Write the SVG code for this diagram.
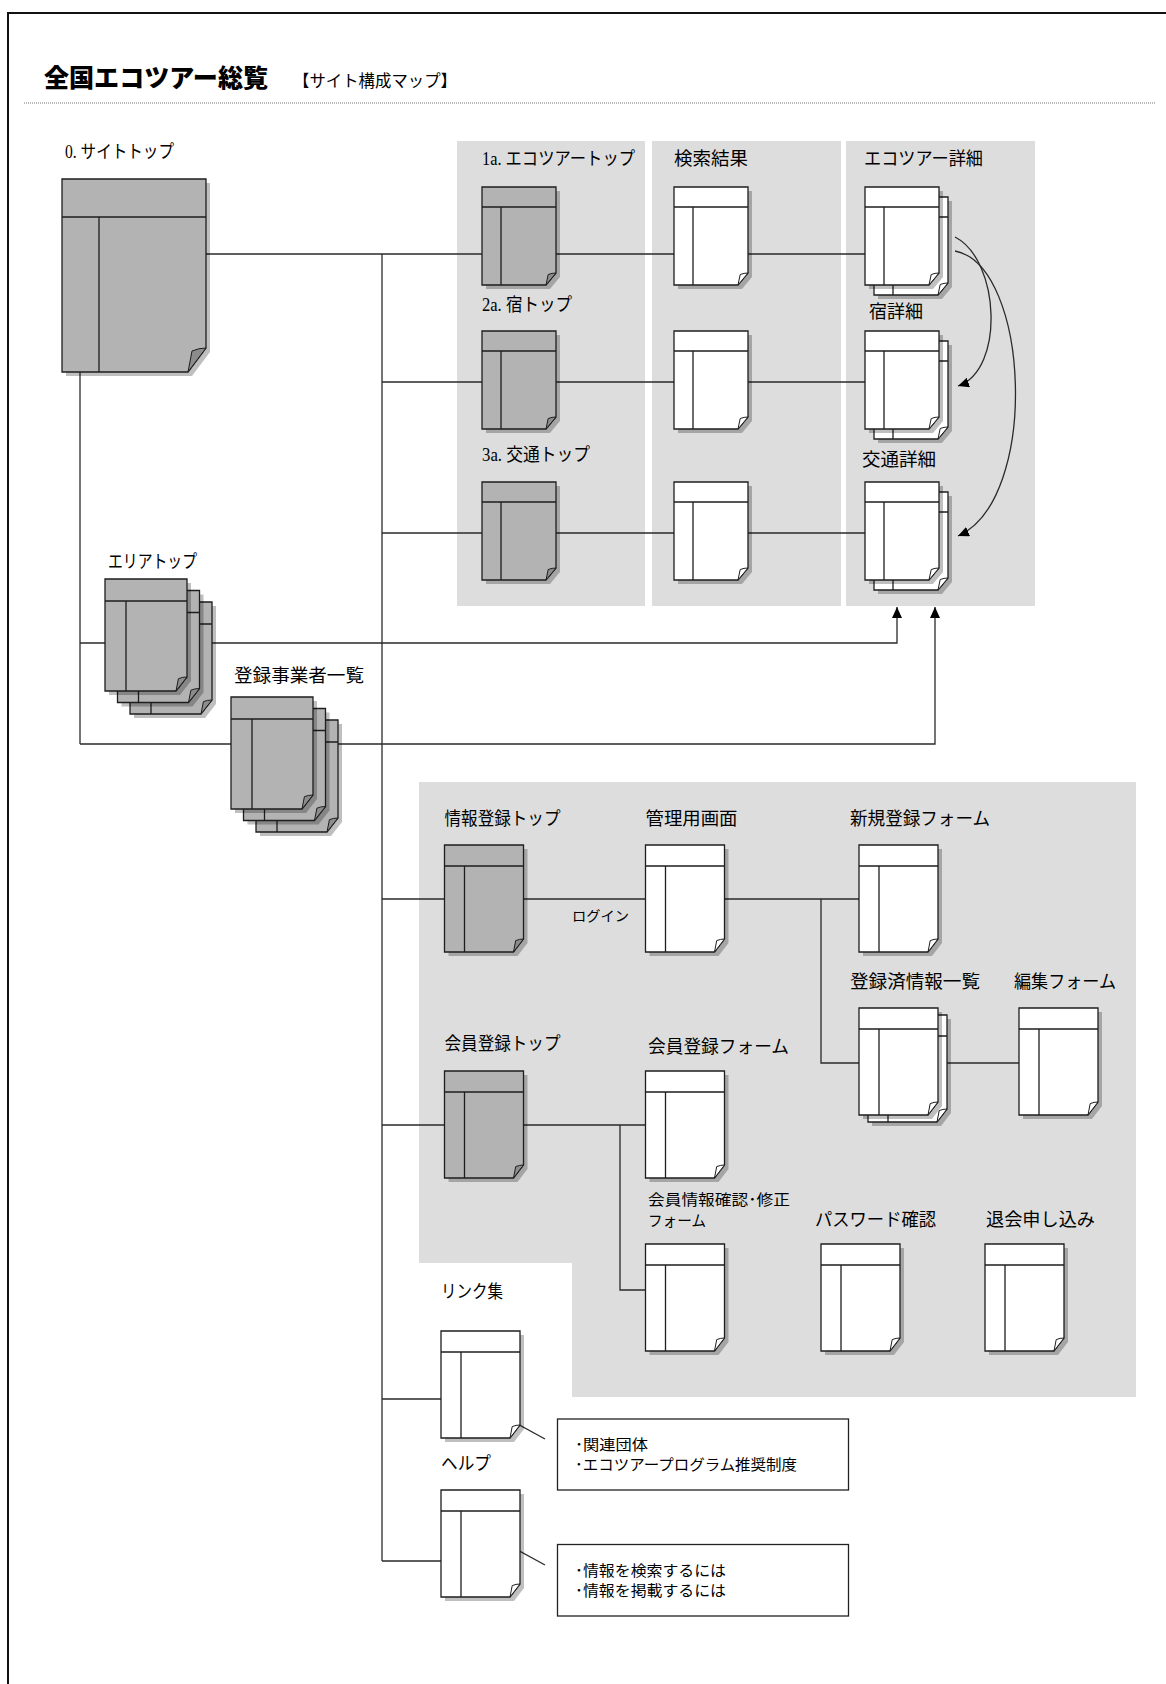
<svg xmlns="http://www.w3.org/2000/svg" width="1166" height="1684" viewBox="0 0 1166 1684">
<style>
 .t{font-family:"Noto Sans CJK JP","Noto Sans CJK SC",sans-serif;font-size:18px;fill:#000}
 .s{font-size:15px}
 .sm{font-size:14px}
 .ser{font-family:"Liberation Serif",serif}
 .ttl{font-size:25px;font-weight:900}
 .c{fill:none;stroke:#2a2a2a;stroke-width:1.3}
 .bg{fill:#dddddd}
 .sh{fill:#000;fill-opacity:.25}
 .pg{stroke:#1e1e1e;stroke-width:1.3}
 .g{fill:#b3b3b3}
 .w{fill:#fff}
 .fg{fill:#8c8c8c;stroke:#1e1e1e;stroke-width:1}
 .fw{fill:#fff;stroke:#1e1e1e;stroke-width:1}
 .pl{fill:none;stroke:#1e1e1e;stroke-width:1.3}
 .box{fill:#fff;stroke:#222;stroke-width:1.3}
</style>
<defs>
 <marker id="ah" markerUnits="userSpaceOnUse" markerWidth="11" markerHeight="10" refX="11" refY="5" orient="auto" viewBox="0 0 11 10"><path d="M0,0 L11,5 L0,10 Z" fill="#000"/></marker>
 <g id="pBig">
  <path class="sh" d="M4,4 H148 V173 L130,197 H4 Z"/>
  <path class="pg g" d="M0,0 H144 V169 L126,193 H0 Z"/>
  <path class="pl" d="M0,38 H144 M37,38 V193"/>
  <path class="fg" d="M126,193 L130,172 Q137,169 144,169 Z"/>
 </g>
 <g id="sG">
  <path class="sh" d="M4,4 H78 V90 L68,102 H4 Z"/>
  <path class="pg g" d="M0,0 H74 V86 L64,98 H0 Z"/>
  <path class="pl" d="M0,20 H74 M19,20 V98"/>
  <path class="fg" d="M64,98 L66.2,87.5 Q70,86 74,86 Z"/>
 </g>
 <g id="sW">
  <path class="sh" d="M4,4 H78 V90 L68,102 H4 Z"/>
  <path class="pg w" d="M0,0 H74 V86 L64,98 H0 Z"/>
  <path class="pl" d="M0,20 H74 M19,20 V98"/>
  <path class="fw" d="M64,98 L66.2,87.5 Q70,86 74,86 Z"/>
 </g>
 <g id="mG">
  <path class="sh" d="M4,4 H83 V98 L73,111 H4 Z"/>
  <path class="pg g" d="M0,0 H79 V94 L69,107 H0 Z"/>
  <path class="pl" d="M0,21 H79 M20,21 V107"/>
  <path class="fg" d="M69,107 L71.2,95.6 Q75,94 79,94 Z"/>
 </g>
 <g id="mW">
  <path class="sh" d="M4,4 H83 V98 L73,111 H4 Z"/>
  <path class="pg w" d="M0,0 H79 V94 L69,107 H0 Z"/>
  <path class="pl" d="M0,21 H79 M20,21 V107"/>
  <path class="fw" d="M69,107 L71.2,95.6 Q75,94 79,94 Z"/>
 </g>
 <g id="lG">
  <path class="sh" d="M4,4 H86 V102 L75,116 H4 Z"/>
  <path class="pg g" d="M0,0 H82 V98 L71,112 H0 Z"/>
  <path class="pl" d="M0,22 H82 M21,22 V112"/>
  <path class="fg" d="M71,112 L73.4,99.7 Q77,98 82,98 Z"/>
 </g>
</defs>

<rect x="8" y="13" width="1200" height="1700" fill="none" stroke="#111" stroke-width="2"/>
<g id="title">
 <text class="t ttl" x="44" y="87" textLength="224" lengthAdjust="spacingAndGlyphs">全国エコツアー総覧</text>
 <text class="t" x="293" y="87" textLength="164" lengthAdjust="spacingAndGlyphs" style="font-size:16.5px">【サイト構成マップ】</text>
 <line x1="24" y1="103" x2="1155" y2="103" stroke="#777" stroke-width="1" stroke-dasharray="1 1"/>
</g>

<g id="backgrounds">
 <rect class="bg" x="457" y="141" width="188" height="465"/>
 <rect class="bg" x="652" y="141" width="189" height="465"/>
 <rect class="bg" x="846" y="141" width="189" height="465"/>
 <path class="bg" d="M419,782 H1136 V1397 H572 V1263 H419 Z"/>
</g>

<g id="connectors" class="c">
 <path d="M206,254 H482"/>
 <path d="M382,254 V1561"/>
 <path d="M382,382 H482 M382,533 H482"/>
 <path d="M556,254 H674 M748,254 H865 M556,382 H674 M748,382 H865 M556,533 H674 M748,533 H865"/>
 <path d="M80,372 V744"/>
 <path d="M80,643 H897 V607" marker-end="url(#ah)"/>
 <path d="M80,744 H935 V607" marker-end="url(#ah)"/>
 <path d="M955,237 C1000,260 1005,370 958,386" marker-end="url(#ah)"/>
 <path d="M955,251 C1030,265 1040,500 958,536" marker-end="url(#ah)"/>
 <path d="M382,899 H444 M523,899 H645 M724,899 H859"/>
 <path d="M821,899 V1063 H859"/>
 <path d="M947,1063 H1019"/>
 <path d="M382,1125 H444 M523,1125 H645"/>
 <path d="M620,1125 V1290 H645"/>
 <path d="M382,1399 H441 M382,1561 H441"/>
 <path d="M505,1417 L545,1439 M505,1543 L545,1565"/>
</g>

<g id="n-sitetop">
 <use href="#pBig" x="62" y="179"/>
 <text class="t" x="65" y="158" textLength="109" lengthAdjust="spacingAndGlyphs"><tspan class="ser">0. </tspan>サイトトップ</text>
</g>
<g id="n-ecotop">
 <use href="#sG" x="482" y="187"/>
 <text class="t" x="482" y="165" textLength="153" lengthAdjust="spacingAndGlyphs"><tspan class="ser">1a. </tspan>エコツアートップ</text>
</g>
<g id="n-yadotop">
 <use href="#sG" x="482" y="331"/>
 <text class="t" x="482" y="311" textLength="90" lengthAdjust="spacingAndGlyphs"><tspan class="ser">2a. </tspan>宿トップ</text>
</g>
<g id="n-kotsutop">
 <use href="#sG" x="482" y="482"/>
 <text class="t" x="482" y="461" textLength="108" lengthAdjust="spacingAndGlyphs"><tspan class="ser">3a. </tspan>交通トップ</text>
</g>
<g id="n-search1">
 <use href="#sW" x="674" y="187"/>
 <text class="t" x="674" y="165" textLength="74" lengthAdjust="spacingAndGlyphs">検索結果</text>
</g>
<g id="n-search2"><use href="#sW" x="674" y="331"/></g>
<g id="n-search3"><use href="#sW" x="674" y="482"/></g>
<g id="n-ecodetail">
 <use href="#sW" x="874" y="197"/>
 <use href="#sW" x="865" y="187"/>
 <text class="t" x="864" y="165" textLength="119" lengthAdjust="spacingAndGlyphs">エコツアー詳細</text>
</g>
<g id="n-yadodetail">
 <use href="#sW" x="874" y="341"/>
 <use href="#sW" x="865" y="331"/>
 <text class="t" x="869" y="318" textLength="54" lengthAdjust="spacingAndGlyphs">宿詳細</text>
</g>
<g id="n-kotsudetail">
 <use href="#sW" x="874" y="492"/>
 <use href="#sW" x="865" y="482"/>
 <text class="t" x="862" y="466" textLength="74" lengthAdjust="spacingAndGlyphs">交通詳細</text>
</g>
<g id="n-areatop">
 <use href="#lG" x="130" y="602"/>
 <use href="#lG" x="117.5" y="590.5"/>
 <use href="#lG" x="105" y="579"/>
 <text class="t" x="108" y="568" textLength="89" lengthAdjust="spacingAndGlyphs">エリアトップ</text>
</g>
<g id="n-operators">
 <use href="#lG" x="256" y="720"/>
 <use href="#lG" x="243.5" y="708.5"/>
 <use href="#lG" x="231" y="697"/>
 <text class="t" x="234" y="682" textLength="130" lengthAdjust="spacingAndGlyphs">登録事業者一覧</text>
</g>
<g id="n-infotop">
 <use href="#mG" x="444.5" y="845"/>
 <text class="t" x="444.5" y="825" textLength="116" lengthAdjust="spacingAndGlyphs">情報登録トップ</text>
</g>
<g id="n-admin">
 <use href="#mW" x="645.5" y="845"/>
 <text class="t" x="645.5" y="825" textLength="92" lengthAdjust="spacingAndGlyphs">管理用画面</text>
 <text class="t sm" x="572" y="921" textLength="57" lengthAdjust="spacingAndGlyphs">ログイン</text>
</g>
<g id="n-newform">
 <use href="#mW" x="859" y="845"/>
 <text class="t" x="850" y="825" textLength="140" lengthAdjust="spacingAndGlyphs">新規登録フォーム</text>
</g>
<g id="n-registered">
 <use href="#mW" x="868" y="1015"/>
 <use href="#mW" x="859" y="1008"/>
 <text class="t" x="850" y="988" textLength="130" lengthAdjust="spacingAndGlyphs">登録済情報一覧</text>
</g>
<g id="n-editform">
 <use href="#mW" x="1019" y="1008"/>
 <text class="t" x="1014" y="988" textLength="102" lengthAdjust="spacingAndGlyphs">編集フォーム</text>
</g>
<g id="n-membertop">
 <use href="#mG" x="444.5" y="1071"/>
 <text class="t" x="444.5" y="1050" textLength="116" lengthAdjust="spacingAndGlyphs">会員登録トップ</text>
</g>
<g id="n-memberform">
 <use href="#mW" x="645.5" y="1071"/>
 <text class="t" x="648" y="1053" textLength="141" lengthAdjust="spacingAndGlyphs">会員登録フォーム</text>
</g>
<g id="n-memberedit">
 <use href="#mW" x="645.5" y="1244"/>
 <text class="t s" x="648" y="1205" textLength="142" lengthAdjust="spacingAndGlyphs">会員情報確認･修正</text>
 <text class="t s" x="648" y="1226" textLength="58" lengthAdjust="spacingAndGlyphs">フォーム</text>
</g>
<g id="n-password">
 <use href="#mW" x="821" y="1244"/>
 <text class="t" x="815" y="1226" textLength="121" lengthAdjust="spacingAndGlyphs">パスワード確認</text>
</g>
<g id="n-withdraw">
 <use href="#mW" x="985" y="1244"/>
 <text class="t" x="986" y="1226" textLength="109" lengthAdjust="spacingAndGlyphs">退会申し込み</text>
</g>
<g id="n-links">
 <use href="#mW" x="441" y="1331"/>
 <text class="t" x="441" y="1298" textLength="62" lengthAdjust="spacingAndGlyphs">リンク集</text>
</g>
<g id="n-help">
 <use href="#mW" x="441" y="1490"/>
 <text class="t" x="441" y="1470" textLength="50" lengthAdjust="spacingAndGlyphs">ヘルプ</text>
</g>
<g id="n-note-links">
 <rect class="box" x="557.5" y="1419" width="291" height="71"/>
 <text class="t s" x="575" y="1450" textLength="73" lengthAdjust="spacingAndGlyphs">･関連団体</text>
 <text class="t s" x="575" y="1470" textLength="222" lengthAdjust="spacingAndGlyphs">･エコツアープログラム推奨制度</text>
</g>
<g id="n-note-help">
 <rect class="box" x="557.5" y="1544.5" width="291" height="71.5"/>
 <text class="t s" x="575" y="1576" textLength="151" lengthAdjust="spacingAndGlyphs">･情報を検索するには</text>
 <text class="t s" x="575" y="1596" textLength="151" lengthAdjust="spacingAndGlyphs">･情報を掲載するには</text>
</g>
</svg>
